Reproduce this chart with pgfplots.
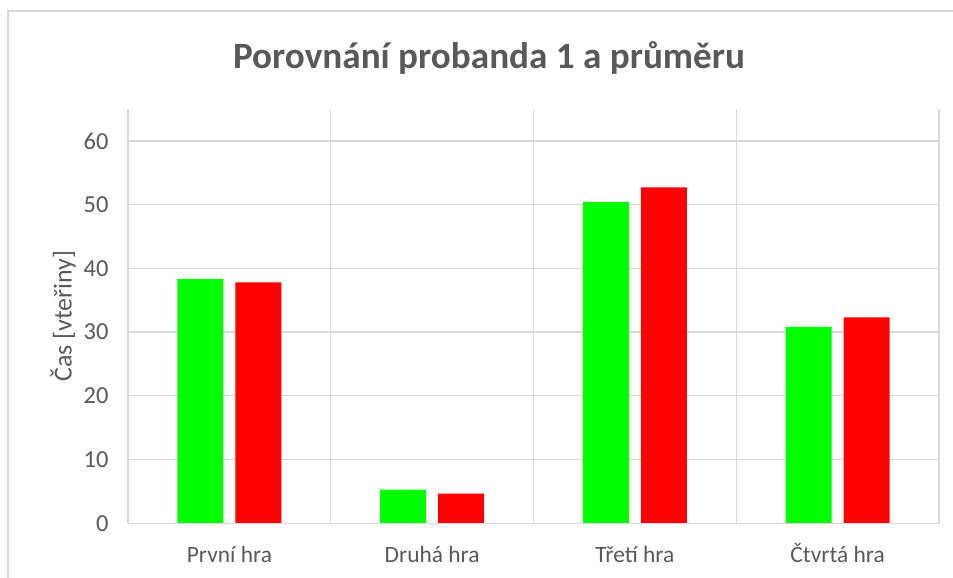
\documentclass[border=0pt]{standalone}
\usepackage{pgfplots}
\pgfplotsset{compat=1.18}
\usepackage{fontspec}
\setmainfont{Carlito}
\definecolor{txt}{HTML}{595959}
\definecolor{grd}{HTML}{D9D9D9}
\definecolor{grn}{HTML}{00FF00}
\definecolor{rd}{HTML}{FF0000}
\begin{document}
\begin{tikzpicture}
\begin{axis}[
  name=ax,
  scale only axis,
  width=811bp, height=414.3bp,
  xmin=-0.5, xmax=3.5, ymin=0, ymax=65,
  ybar=12bp, bar width=46bp,
  xtick={0,1,2,3},
  xticklabels={První hra, Druhá hra, Třetí hra, Čtvrtá hra},
  minor xtick={-0.5,0.5,1.5,2.5,3.5},
  ytick={0,10,20,30,40,50,60},
  ymajorgrids, xminorgrids,
  grid style={grd, line width=1.3bp},
  minor grid style={grd, line width=1.3bp},
  axis line style={draw=none},
  tick style={draw=none},
  major tick length=0pt, minor tick length=0pt,
  /pgf/number format/assume math mode=true,
  ticklabel style={font=\fontsize{23.5}{28}\selectfont, text=txt},
  yticklabel style={font=\fontsize{24.5}{29}\selectfont, xshift=-16bp},
  xticklabel style={anchor=base, yshift=-39bp},
  every axis y label/.style={at={(axis description cs:-0.08,0.5)}, rotate=90, anchor=center},
  ylabel={Čas [vteřiny]},
  ylabel style={font=\fontsize{26}{31}\selectfont, text=txt},
  clip=false,
]
\addplot[fill=grn, draw=none] coordinates {(0,38.3) (1,5.3) (2,50.4) (3,30.8)};
\addplot[fill=rd, draw=none] coordinates {(0,37.8) (1,4.65) (2,52.7) (3,32.3)};
\draw[grd, line width=1.3bp] (axis cs:-0.5,0) -- (axis cs:3.5,0);
\end{axis}
\node[text=txt, font=\fontsize{37.3}{44}\selectfont\bfseries, anchor=center] at ([shift={(361bp,465bp)}]ax.south west) {Porovnání probanda 1 a průměru};
\draw[grd, line width=1.3bp] ([shift={(-120bp,-70bp)}]ax.south west) -- ([shift={(-120bp,512.3bp)}]ax.south west) -- ([shift={(840bp,512.3bp)}]ax.south west);
\pgfresetboundingbox
\path[use as bounding box] ([shift={(-128bp,-54.7bp)}]ax.south west) rectangle ([shift={(825bp,523.3bp)}]ax.south west);
\end{tikzpicture}
\end{document}
